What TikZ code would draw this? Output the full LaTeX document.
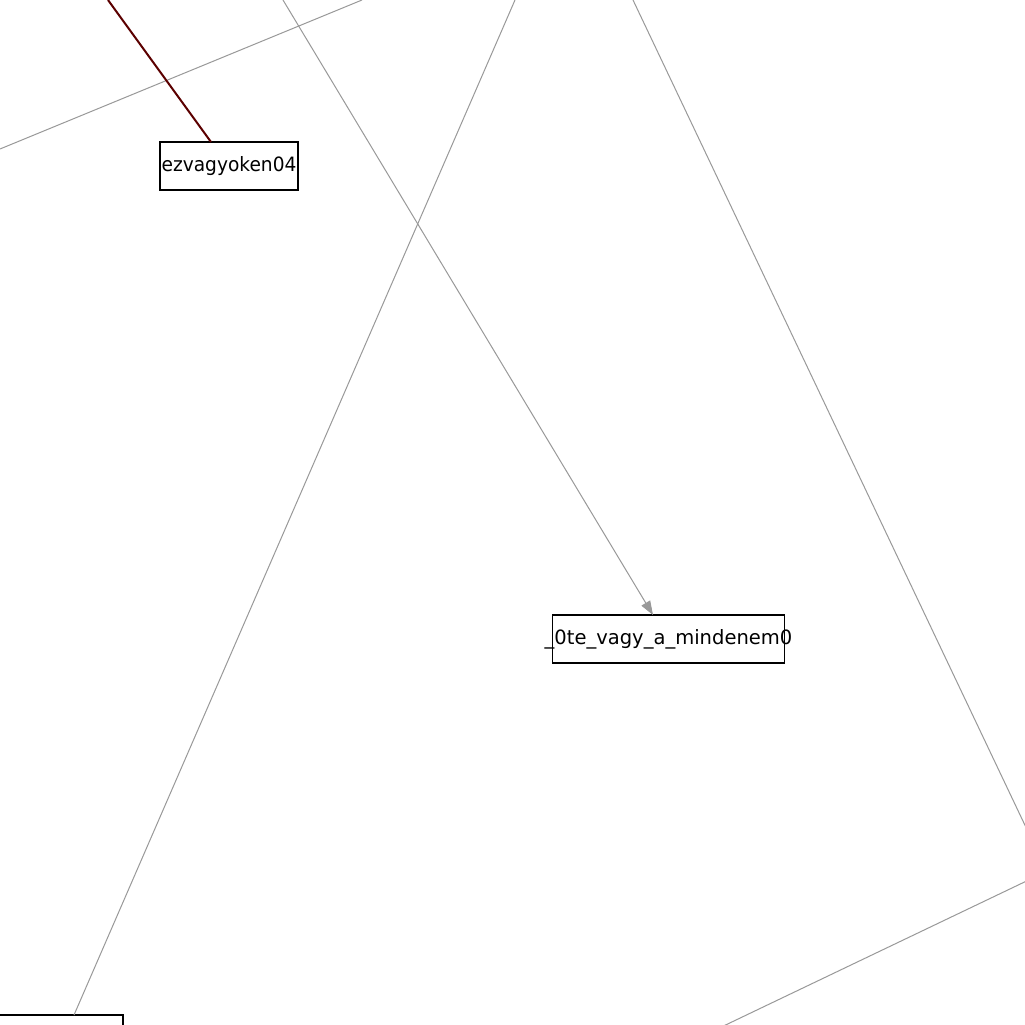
\documentclass[tikz,border=0pt]{standalone}
\usepackage{fontspec}
\setmainfont{DejaVu Sans}
\usetikzlibrary{arrows.meta}
\definecolor{edgegray}{HTML}{999999}
\definecolor{darkred}{HTML}{5C0000}
\tikzset{
  box/.style={draw=black, line width=1.2pt, rectangle, inner sep=0pt, minimum height=48pt, font=\fontsize{18.6pt}{22pt}\selectfont},
  edge/.style={draw=edgegray, line width=1pt},
  redge/.style={draw=darkred, line width=2pt},
  arr/.style={-{Triangle[length=14pt,width=10pt,fill=edgegray]}}
}
\begin{document}
\begin{tikzpicture}[x=1pt,y=-1pt]
\useasboundingbox (0,0) rectangle (1025,1025);
\fill[white] (0,0) rectangle (1025,1025);
% nodes
\node[box, minimum width=138pt] (n1) at (229,166) {\scalebox{1}[1.06]{ezvagyoken04}};
\node[box, inner xsep=-8pt] (n2) at (668.5,639) {\scalebox{1.05}[1.06]{\_0te\_vagy\_a\_mindenem0}};
\node[box, minimum width=160pt] (n3) at (43,1039) {};
% free end coordinates
\coordinate (r0) at (108,0);
\coordinate (r1) at (211,142);
\coordinate (g0) at (0,149);
\coordinate (g1) at (362,0);
\coordinate (a0) at (283,0);
\coordinate (a1) at (653,615);
\coordinate (b0) at (515,0);
\coordinate (b1) at (74,1015);
\coordinate (c0) at (633,0);
\coordinate (c1) at (1060,899);
\coordinate (d0) at (1060,865);
\coordinate (d1) at (690,1042);
% connectors
\draw[edge] (g0) -- (g1);
\draw[edge] (b0) -- (b1);
\draw[edge] (c0) -- (c1);
\draw[edge] (d0) -- (d1);
\draw[edge, arr] (a0) -- (a1);
\draw[redge] (r0) -- (r1);
\end{tikzpicture}
\end{document}
